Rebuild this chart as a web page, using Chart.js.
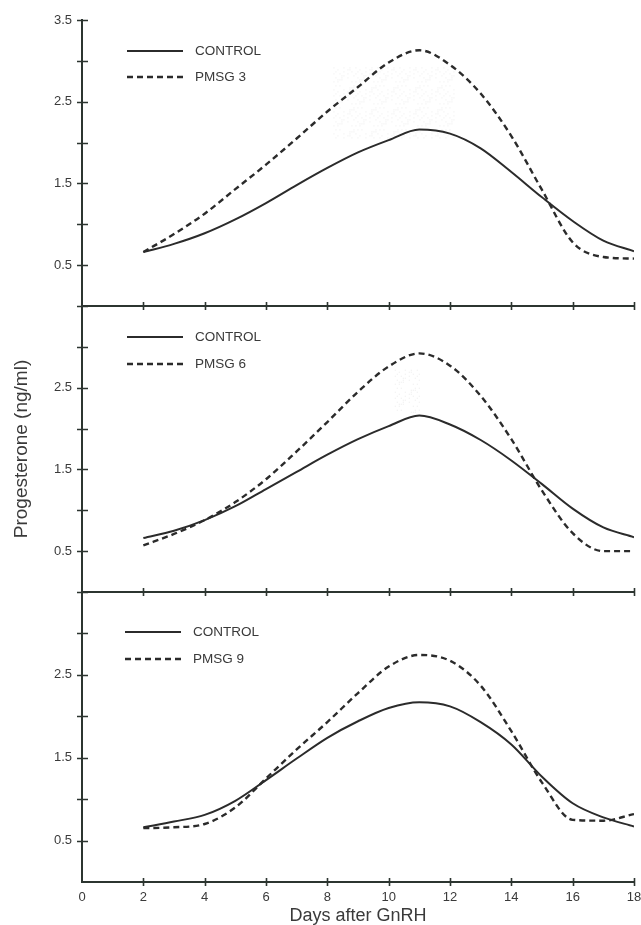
<!DOCTYPE html>
<html>
<head>
<meta charset="utf-8">
<script src="https://cdn.jsdelivr.net/npm/chart.js@4.4.0/dist/chart.umd.min.js"></script>
<style>
    html, body { margin: 0; padding: 0; background: #fff; overflow: hidden; }
    #wrap { position: relative; width: 641px; height: 925px; overflow: hidden; background: #fff; }
    #wrap canvas { position: absolute; left: 0; top: 0; }
</style>
</head>
<body>
<div id="wrap">
    <canvas id="panel1" width="680" height="925"></canvas>
    <canvas id="panel2" width="680" height="925"></canvas>
    <canvas id="panel3" width="680" height="925"></canvas>
</div>
<script>
// days after GnRH and progesterone (ng/ml) per group
const days = [2, 3, 4, 5, 6, 7, 8, 9, 10, 11, 12, 13, 14, 15, 16, 17, 18];

const control1 = [0.66, 0.76, 0.89, 1.06, 1.26, 1.48, 1.69, 1.88, 2.03, 2.16, 2.11, 1.93, 1.64, 1.33, 1.04, 0.80, 0.67];
const pmsg3 = [0.66, 0.88, 1.13, 1.43, 1.73, 2.05, 2.38, 2.68, 2.98, 3.13, 2.95, 2.60, 2.08, 1.42, 0.78, 0.60, 0.58];

const control2 = [0.66, 0.75, 0.88, 1.05, 1.26, 1.47, 1.68, 1.87, 2.03, 2.16, 2.05, 1.86, 1.61, 1.32, 1.02, 0.79, 0.67];
const pmsg6 = [0.57, 0.71, 0.88, 1.10, 1.38, 1.72, 2.08, 2.45, 2.76, 2.92, 2.77, 2.40, 1.87, 1.24, 0.72, 0.50, 0.50];

const control3 = [0.66, 0.73, 0.81, 0.98, 1.23, 1.49, 1.74, 1.94, 2.10, 2.17, 2.12, 1.93, 1.66, 1.27, 0.95, 0.78, 0.67];
const pmsg9 = [0.65, 0.66, 0.70, 0.90, 1.25, 1.60, 1.93, 2.28, 2.60, 2.74, 2.67, 2.37, 1.82, 1.20, 0.75, 0.74, 0.82];

// y levels that carry a number
const labelledLevels = [0.5, 1.5, 2.5, 3.5];

// stippled blocks (days, ng/ml) marking where the groups differ
const shadeDays = [[8.2, 12.2], [10.2, 11.0], null];
const shadeLevels = [[2.05, 2.92], [2.2, 2.72], null];

const ink = '#2b2b2b';
const axisInk = '#2c3530';
const textInk = '#3a3a3a';
const fontFamily = '"Liberation Sans", Arial, Helvetica, sans-serif';

function toPoints(values) {
    return days.map((d, i) => ({ x: d, y: values[i] }));
}

// tick marks that cross the axis lines on both sides
const crossTicks = {
    id: 'crossTicks',
    afterDraw(chart) {
        const { ctx, chartArea, scales: { x, y } } = chart;
        ctx.save();
        ctx.strokeStyle = axisInk;
        ctx.lineWidth = 1.6;
        ctx.beginPath();
        y.ticks.forEach(t => {
            if (t.value === 0) return;
            const py = Math.round(y.getPixelForValue(t.value)) + 0.5;
            ctx.moveTo(chartArea.left - 5, py);
            ctx.lineTo(chartArea.left + 6, py);
        });
        x.ticks.forEach(t => {
            if (t.value === 0) return;
            const px = Math.round(x.getPixelForValue(t.value)) + 0.5;
            ctx.moveTo(px, chartArea.bottom - 4);
            ctx.lineTo(px, chartArea.bottom + 4);
        });
        ctx.stroke();
        ctx.restore();
    }
};

// faint stipple between the curves
const stipple = {
    id: 'stipple',
    beforeDatasetsDraw(chart, args, opts) {
        if (!opts.days) return;
        const { ctx, scales: { x, y } } = chart;
        const x0 = x.getPixelForValue(opts.days[0]);
        const x1 = x.getPixelForValue(opts.days[1]);
        const y0 = y.getPixelForValue(opts.levels[1]);
        const y1 = y.getPixelForValue(opts.levels[0]);
        ctx.save();
        ctx.fillStyle = 'rgba(140,140,140,0.16)';
        let i = 0;
        for (let px = x0; px < x1; px += 2) {
            let j = 0;
            for (let py = y0; py < y1; py += 2) {
                const h = (i * 73 + j * 151 + i * j * 17) % 11;
                if (h < 3) ctx.fillRect(px, py, 1, 1);
                j++;
            }
            i++;
        }
        ctx.restore();
    }
};

// line samples and group names in the upper left of each panel
const panelKey = {
    id: 'panelKey',
    afterDatasetsDraw(chart, args, opts) {
        const { ctx, chartArea } = chart;
        chart.data.datasets.forEach((ds, i) => {
            const lx = chartArea.left + opts.x;
            const ly = chartArea.top + opts.y + i * opts.gap;
            ctx.save();
            ctx.strokeStyle = ds.borderColor;
            ctx.lineWidth = ds.borderWidth;
            ctx.setLineDash(ds.borderDash || []);
            ctx.beginPath();
            ctx.moveTo(lx, ly);
            ctx.lineTo(lx + opts.length, ly);
            ctx.stroke();
            ctx.setLineDash([]);
            ctx.fillStyle = textInk;
            ctx.font = '13.5px ' + fontFamily;
            ctx.textBaseline = 'middle';
            ctx.fillText(ds.label, lx + opts.length + 12, ly + 0.5);
            ctx.restore();
        });
    }
};

function buildPanel(id, cfg) {
    const ctx = document.getElementById(id).getContext('2d');

    const data = {
        datasets: [{
            label: 'CONTROL',
            data: toPoints(cfg.control),
            borderColor: ink,
            borderWidth: 2,
            pointRadius: 0,
            cubicInterpolationMode: 'monotone'
        }, {
            label: cfg.name,
            data: toPoints(cfg.treated),
            borderColor: ink,
            borderWidth: 2.4,
            borderDash: [6, 4],
            pointRadius: 0,
            cubicInterpolationMode: 'monotone'
        }]
    };

    const config = {
        type: 'line',
        data: data,
        options: {
            responsive: false,
            animation: false,
            layout: {
                padding: { top: cfg.top, bottom: cfg.bottom, left: 0, right: 46 }
            },
            plugins: {
                tooltip: { enabled: false },
                legend: { display: false },
                panelKey: { x: cfg.keyX, y: cfg.keyY, gap: cfg.keyGap, length: 56 },
                stipple: { days: cfg.shadeDays, levels: cfg.shadeLevels }
            },
            scales: {
                x: {
                    type: 'linear',
                    min: 0,
                    max: 18,
                    afterFit: scale => { scale.height = cfg.xHeight; },
                    grid: { drawOnChartArea: false, drawTicks: false },
                    border: { color: axisInk, width: 2 },
                    ticks: {
                        display: cfg.showDays,
                        stepSize: 2,
                        padding: 8,
                        color: textInk,
                        font: { family: fontFamily, size: 13 }
                    },
                    title: {
                        display: cfg.showDays,
                        text: 'Days after GnRH',
                        color: textInk,
                        padding: 0,
                        font: { family: fontFamily, size: 18, lineHeight: 1 }
                    }
                },
                y: {
                    min: 0,
                    max: 3.5,
                    afterFit: scale => { scale.width = 82; },
                    grid: { drawOnChartArea: false, drawTicks: false },
                    border: { color: axisInk, width: 2 },
                    ticks: {
                        stepSize: 0.5,
                        padding: 10,
                        color: textInk,
                        font: { family: fontFamily, size: 13 },
                        callback: function (value) {
                            if (!labelledLevels.includes(value)) return '';
                            if (value === 3.5 && !cfg.showTop) return '';
                            return value.toFixed(1);
                        }
                    },
                    title: {
                        display: cfg.showTitle,
                        text: 'Progesterone (ng/ml)',
                        color: textInk,
                        padding: { top: 10, bottom: 0 },
                        font: { family: fontFamily, size: 19 }
                    }
                }
            }
        },
        plugins: [crossTicks, stipple, panelKey]
    };

    return new Chart(ctx, config);
}

buildPanel('panel1', {
    control: control1, treated: pmsg3, name: 'PMSG 3',
    top: 20, bottom: 619, xHeight: 0,
    keyX: 45, keyY: 31, keyGap: 26,
    showTop: true, showTitle: false, showDays: false,
    shadeDays: shadeDays[0], shadeLevels: shadeLevels[0]
});
buildPanel('panel2', {
    control: control2, treated: pmsg6, name: 'PMSG 6',
    top: 306, bottom: 333, xHeight: 0,
    keyX: 45, keyY: 31, keyGap: 27,
    showTop: false, showTitle: true, showDays: false,
    shadeDays: shadeDays[1], shadeLevels: shadeLevels[1]
});
buildPanel('panel3', {
    control: control3, treated: pmsg9, name: 'PMSG 9',
    top: 592, bottom: 0, xHeight: 43,
    keyX: 43, keyY: 40, keyGap: 27,
    showTop: false, showTitle: false, showDays: true,
    shadeDays: shadeDays[2], shadeLevels: shadeLevels[2]
});
</script>
</body>
</html>
